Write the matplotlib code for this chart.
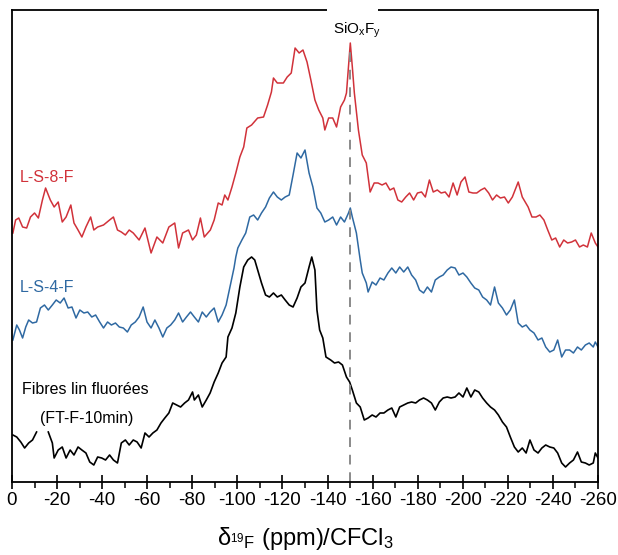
import matplotlib
matplotlib.use("Agg")
import matplotlib.pyplot as plt
from matplotlib.patches import Rectangle
from matplotlib.ticker import MultipleLocator
import numpy as np

plt.rcParams["font.family"] = ["Liberation Sans", "DejaVu Sans"]
plt.rcParams["mathtext.fontset"] = "custom"
plt.rcParams["mathtext.rm"] = "Liberation Sans"
plt.rcParams["mathtext.it"] = "Liberation Sans:italic"

# --- spectra (ppm, intensity in arbitrary units, already offset) ---
ppm_red = [-0.4, -1.6, -3.0, -4.7, -6.5, -8.2, -10.0, -11.7, -13.5, -14.9, -17.0, -18.7,
           -20.5, -22.3, -24.0, -26.1, -27.5, -29.3, -31.0, -32.8, -34.9, -36.3, -38.0,
           -40.6, -43.3, -45.0, -46.8, -48.5, -50.3, -52.0, -53.8, -56.4, -59.0, -61.7,
           -64.3, -66.9, -69.6, -72.2, -73.9, -75.7, -78.3, -80.1, -81.8, -83.6, -85.3,
           -88.0, -89.7, -91.5, -93.2, -94.4, -95.8, -97.6, -99.3, -101.1, -102.8, -104.2,
           -106.3, -109.0, -111.6, -113.4, -115.1, -116.0, -117.7, -120.4, -122.1, -123.9,
           -125.6, -127.4, -129.1, -130.9, -132.6, -134.4, -136.1, -137.9, -138.8, -140.5,
           -142.3, -144.0, -145.8, -147.5, -148.4, -149.3, -150.1, -151.0, -151.9, -153.7,
           -155.4, -157.2, -158.9, -160.7, -162.4, -164.2, -165.9, -167.7, -169.4, -171.2,
           -172.9, -174.7, -176.4, -178.2, -179.9, -181.7, -183.4, -185.2, -186.9, -188.7,
           -190.4, -192.2, -193.9, -195.7, -197.5, -199.2, -201.0, -202.7, -204.5, -206.2,
           -208.0, -209.7, -211.5, -213.2, -215.0, -216.7, -218.5, -220.2, -222.0, -223.7,
           -224.6, -226.4, -229.0, -230.7, -232.5, -234.2, -236.0, -237.7, -239.5, -241.2,
           -243.0, -244.8, -246.5, -248.3, -250.0, -251.8, -253.5, -255.3, -257.0, -258.8,
           -260.0]
int_red = [249, 262, 264, 255, 254, 265, 269, 264, 282, 294, 282, 275,
           280, 260, 265, 277, 259, 252, 245, 255, 265, 252, 255,
           257, 262, 265, 252, 250, 247, 252, 249, 242, 254, 229,
           245, 239, 255, 259, 234, 249, 252, 242, 247, 264, 245,
           252, 262, 279, 277, 287, 282, 295, 309, 325, 335, 354,
           357, 364, 365, 377, 390, 404, 399, 399, 405, 409,
           434, 429, 432, 420, 402, 382, 372, 364, 352, 364,
           364, 355, 375, 382, 389, 415, 439, 415, 389, 352,
           327, 319, 290, 299, 299, 297, 299, 292, 294, 282,
           280, 285, 289, 282, 289, 290, 285, 302, 290, 292,
           289, 290, 285, 299, 287, 300, 305, 290, 289, 289,
           292, 294, 289, 282, 287, 284, 285, 279, 285, 295,
           300, 285, 275, 265, 265, 267, 262, 252, 242, 244,
           235, 242, 239, 240, 242, 235, 237, 235, 249, 239,
           235]

ppm_blue = [-0.4, -1.2, -2.1, -3.3, -4.7, -6.1, -7.4, -9.1, -10.9, -12.6, -14.4, -16.1,
            -17.9, -19.6, -21.4, -23.1, -24.9, -26.6, -28.4, -30.1, -31.9, -33.6, -35.4,
            -37.1, -38.9, -40.6, -42.4, -44.1, -45.9, -47.6, -49.4, -51.2, -52.9, -54.7,
            -56.4, -58.2, -59.9, -61.7, -63.4, -65.2, -66.9, -68.7, -70.4, -72.2, -73.9,
            -75.7, -77.4, -79.2, -80.9, -82.7, -84.4, -86.2, -87.9, -89.7, -91.5, -93.2,
            -95.0, -96.7, -98.5, -99.3, -100.2, -102.0, -103.7, -105.5, -107.2, -109.0,
            -110.7, -112.5, -114.2, -116.0, -117.7, -119.5, -121.2, -123.0, -124.7, -126.5,
            -128.2, -130.0, -131.8, -133.5, -135.3, -137.0, -138.8, -140.5, -142.3, -144.0,
            -145.8, -147.5, -149.3, -150.1, -151.0, -152.8, -154.5, -155.4, -157.2, -158.0,
            -159.8, -161.5, -163.3, -165.0, -166.8, -168.5, -170.3, -172.0, -173.8, -175.6,
            -177.3, -179.1, -180.8, -182.6, -184.3, -186.1, -187.8, -189.6, -191.3, -193.1,
            -194.8, -196.6, -198.3, -200.1, -201.8, -203.6, -205.3, -207.1, -208.8, -210.6,
            -212.3, -214.1, -215.8, -217.6, -219.4, -221.1, -222.9, -224.6, -226.4, -228.1,
            -229.8, -231.6, -233.4, -235.1, -236.8, -238.6, -240.4, -242.1, -243.9, -245.6,
            -247.4, -249.1, -250.9, -252.6, -254.4, -256.1, -257.9, -258.8, -260.0]
int_blue = [142, 149, 157, 152, 144, 155, 162, 159, 160, 174, 177, 172,
            177, 182, 179, 184, 174, 175, 164, 172, 169, 170, 165,
            167, 160, 154, 160, 157, 159, 155, 154, 150, 157, 160,
            165, 175, 160, 154, 162, 154, 145, 154, 157, 162, 169,
            160, 165, 170, 165, 160, 170, 165, 170, 174, 160, 167,
            177, 195, 214, 225, 234, 242, 249, 265, 267, 262,
            269, 275, 284, 290, 285, 282, 285, 287, 307, 329,
            324, 332, 309, 295, 274, 269, 260, 262, 265, 257,
            265, 260, 269, 274, 265, 249, 222, 209, 199, 190,
            200, 197, 204, 202, 209, 214, 209, 215, 210, 215,
            207, 202, 192, 189, 195, 190, 202, 205, 207, 212,
            215, 214, 207, 209, 205, 199, 194, 192, 185, 182,
            177, 195, 179, 174, 167, 172, 182, 159, 155, 157,
            152, 149, 142, 144, 135, 130, 132, 142, 125, 132,
            132, 129, 135, 132, 137, 139, 135, 140, 135]

ppm_black = [-0.4, -2.1, -3.9, -5.6, -7.4, -9.1, -10.9, -13.5, -16.1, -17.9, -18.7, -20.5,
             -22.3, -24.0, -25.8, -27.5, -29.3, -31.0, -32.8, -34.5, -36.3, -38.0, -39.8,
             -41.5, -43.3, -45.0, -46.8, -48.5, -50.3, -52.0, -53.8, -55.5, -57.3, -59.0,
             -60.8, -62.5, -64.3, -66.1, -67.8, -69.6, -71.3, -73.1, -74.8, -76.6, -78.3,
             -80.1, -80.9, -82.7, -84.4, -86.2, -87.9, -89.7, -91.5, -93.2, -95.0, -95.8,
             -97.6, -99.3, -101.1, -102.8, -104.6, -106.3, -107.7, -109.0, -110.7, -112.5,
             -114.2, -116.0, -117.7, -119.5, -121.2, -123.0, -124.7, -126.5, -128.2, -130.0,
             -131.8, -133.0, -134.4, -135.3, -136.5, -137.9, -139.3, -141.4, -143.1, -144.9,
             -146.6, -148.4, -149.8, -151.0, -152.8, -154.5, -156.3, -158.0, -159.8, -161.5,
             -163.3, -165.0, -166.8, -168.5, -170.3, -172.0, -173.8, -175.6, -177.3, -179.1,
             -180.8, -182.6, -184.3, -186.1, -187.8, -189.6, -191.3, -193.1, -194.8, -196.6,
             -198.3, -200.1, -201.8, -203.6, -205.3, -207.1, -208.8, -210.6, -212.3, -214.1,
             -215.8, -217.6, -219.4, -221.1, -222.9, -224.6, -226.4, -228.1, -229.8, -231.6,
             -233.4, -235.1, -236.8, -238.6, -240.4, -242.1, -243.9, -245.6, -247.4, -249.1,
             -250.9, -252.6, -254.4, -256.1, -257.9, -258.8, -260.0]
int_black = [47, 45, 40, 34, 39, 42, 50, np.nan, 50, 39, 24, 32,
             35, 24, 32, 27, 35, 32, 29, 20, 17, 25, 24,
             22, 27, 22, 19, 39, 42, 37, 42, 40, 34, 49,
             45, 49, 52, 59, 64, 69, 79, 77, 75, 79, 82,
             90, 82, 87, 75, 82, 89, 100, 109, 119, 125, 145,
             154, 169, 195, 215, 222, 225, 222, 212, 199, 187,
             185, 189, 185, 187, 182, 177, 175, 184, 195, 199,
             215, 225, 212, 172, 152, 144, 125, 122, 119, 120,
             117, 105, 100, 92, 79, 75, 62, 64, 67, 65,
             69, 69, 72, 74, 65, 75, 77, 79, 80, 79,
             82, 84, 82, 79, 72, 80, 84, 85, 84, 85,
             89, 85, 94, 85, 92, 90, 84, 79, 75, 72,
             67, 60, 55, 45, 35, 30, 34, 29, 42, 32,
             29, 34, 37, 35, 34, 29, 19, 15, 19, 22,
             30, 20, 19, 17, 19, 29, 24]

siox_ppm = -150

fig = plt.figure(figsize=(6.18, 5.55), dpi=100)
ax = fig.add_axes([12 / 618, 73 / 555, 586 / 618, 472 / 555])

ax.plot(ppm_red, int_red, color="#d1323a", lw=1.1)
ax.plot(ppm_blue, int_blue, color="#2f69a2", lw=1.1)
ax.plot(ppm_black, int_black, color="black", lw=1.2)

ax.vlines(siox_ppm, 0, 437, colors="#8a8a8a", linestyles=(0, (5, 4)), lw=1.4)

ax.set_xlim(0, -260)
ax.set_ylim(0, 472)
ax.set_yticks([])
ax.xaxis.set_major_locator(MultipleLocator(20))
ax.xaxis.set_minor_locator(MultipleLocator(10))
ax.tick_params(axis="x", which="major", direction="inout", length=10, width=1.2,
               labelsize=13.5, pad=2)
ax.tick_params(axis="x", which="minor", direction="out", length=4, width=1.1)
ax.set_xticks(np.arange(0, -261, -20))
ax.set_xticklabels([str(v) for v in np.arange(0, -261, -20)])
for sp in ax.spines.values():
    sp.set_linewidth(1.3)

# gap in the top frame behind the SiOxFy label
ax.add_patch(Rectangle((-139.8, 462), -22.6, 18, facecolor="white", edgecolor="none",
                       clip_on=False, zorder=5))
ax.text(-153, 452, r"SiO$_\mathrm{x}$F$_\mathrm{y}$", ha="center", va="center",
        fontsize=11, zorder=6)

ax.text(-3.5, 304, "L-S-8-F", color="#d1323a", fontsize=11.5, va="center")
ax.text(-3.5, 194, "L-S-4-F", color="#2f69a2", fontsize=11.5, va="center")
ax.text(-4.4, 93, "Fibres lin fluorées", color="black", fontsize=11.5, va="center")
ax.text(-12.4, 64, "(FT-F-10min)", color="black", fontsize=11.5, va="center")

ax.set_xlabel(r"δ$_{^{19}\mathrm{F}}$ (ppm)/CFCl$_3$", fontsize=17, labelpad=12)

fig.savefig("out.png", dpi=100)
